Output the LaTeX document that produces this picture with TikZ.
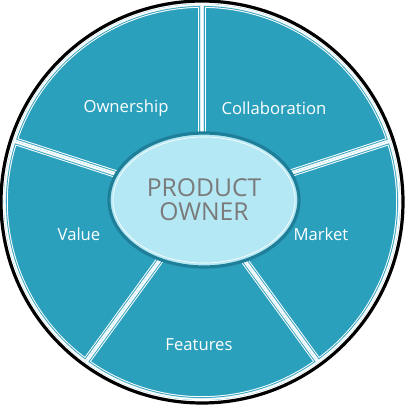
\documentclass[tikz,border=0pt]{standalone}
\usepackage{fontspec}
\usetikzlibrary{shapes.geometric}
\newfontfamily\wheelfont{Open Sans}
\definecolor{wheelteal}{HTML}{2BA0BD}
\definecolor{hubfill}{HTML}{B4E8F4}
\definecolor{hubring}{HTML}{1F7E98}
\definecolor{hubtext}{HTML}{7A7A7A}
\begin{document}
\begin{tikzpicture}[x=0.75pt,y=0.75pt]
		\tikzstyle{label}=[text=white,font=\wheelfont\fontsize{12.5}{14}\selectfont]
		\tikzstyle{hub}=[ellipse,draw=hubring,line width=2.4pt,fill=hubfill,minimum width=142.5pt,minimum height=100.5pt,inner sep=0pt]

		\useasboundingbox (-202,-203) rectangle (203,202);
		\draw[black,line width=2.4pt] (0,0) circle[radius=201];

		% five sectors, each with a white band and a thin inner line
		\foreach \a in {18,90,162,234,306}{
		  \begin{scope}
		    \clip (0,0) -- (\a:198) arc[start angle=\a,delta angle=72,radius=198] -- cycle;
		    \fill[wheelteal] (0,0) -- (\a:198) arc[start angle=\a,delta angle=72,radius=198] -- cycle;
		    \draw[white,line width=5.7pt] (0,0) -- (\a:198) arc[start angle=\a,delta angle=72,radius=198] -- cycle;
		    \draw[wheelteal,line width=4.2pt] (0,0) -- (\a:198) arc[start angle=\a,delta angle=72,radius=198] -- cycle;
		    \draw[white!70!wheelteal,line width=3pt] (0,0) -- (\a:198) arc[start angle=\a,delta angle=72,radius=198] -- cycle;
		    \draw[white,line width=2.2pt] (0,0) -- (\a:198) arc[start angle=\a,delta angle=72,radius=198] -- cycle;
		  \end{scope}
		}

		\node [label] (own) at (-76,94) {Ownership};
		\node [label] (col) at (72,94) {Collaboration};
		\node [label] (mkt) at (119,-32) {Market};
		\node [label] (val) at (-123,-32) {Value};
		\node [label] (fea) at (-3,-143) {Features};

		\node [hub] (po) at (2,2) {};
		\draw[white,line width=0.5pt] (po.center) ellipse[x radius=91,y radius=63];
		\node [text=hubtext,align=center,font=\wheelfont\fontsize{18.5}{18}\selectfont] (pot) at (po.center) {PRODUCT\\OWNER};

\end{tikzpicture}
\end{document}
